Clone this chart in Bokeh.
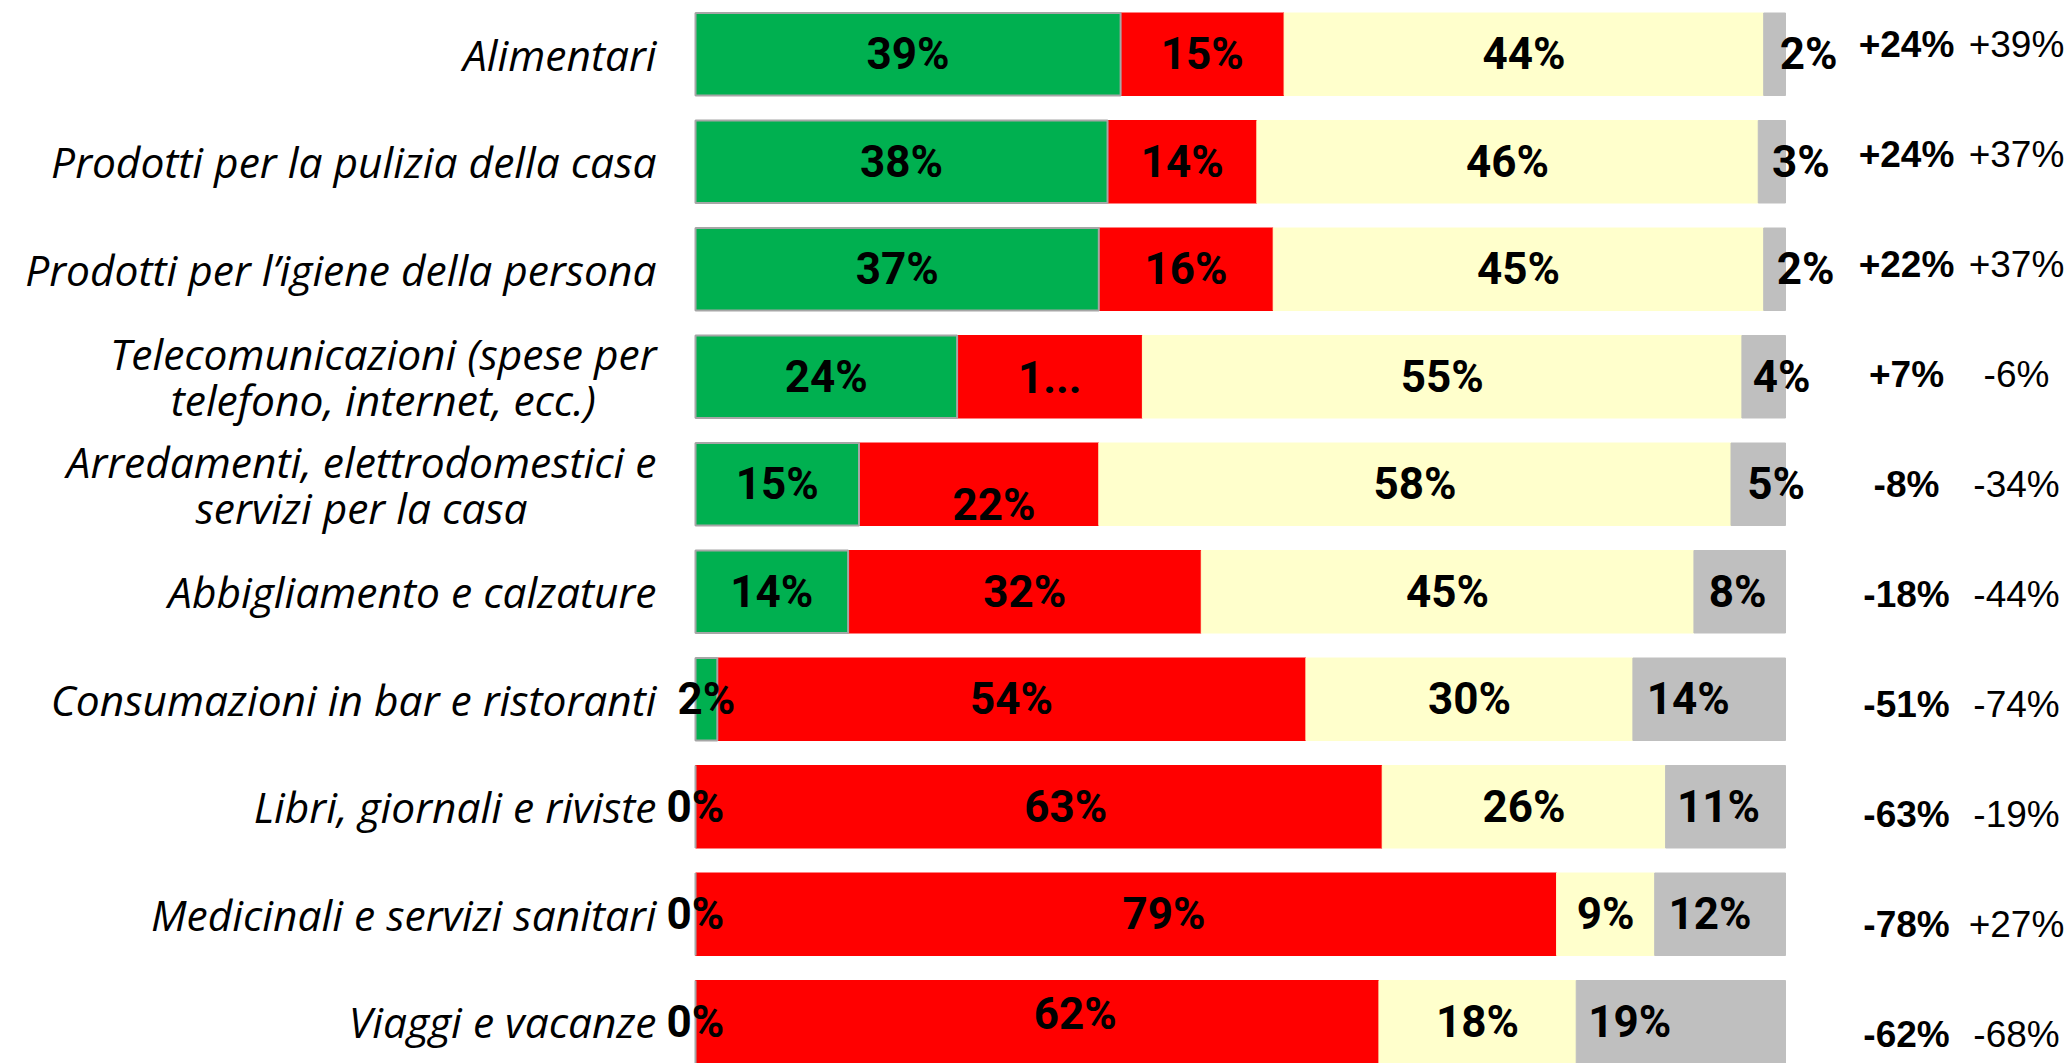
import numpy as np
from bokeh.plotting import figure
from bokeh.models import Range1d, ColumnDataSource
from bokeh.core.properties import value
from bokeh.embed import file_html
from bokeh.resources import INLINE

# ---------------- data ----------------
categories = [
    "Alimentari",
    "Prodotti per la pulizia della casa",
    "Prodotti per l\u2019igiene della persona",
    "Telecomunicazioni (spese per\ntelefono, internet, ecc.)",
    "Arredamenti, elettrodomestici e\nservizi per la casa",
    "Abbigliamento e calzature",
    "Consumazioni in bar e ristoranti",
    "Libri, giornali e riviste",
    "Medicinali e servizi sanitari",
    "Viaggi e vacanze",
]
aumento = [39, 37.8, 37, 24, 15, 14.0, 2, 0, 0, 0]
diminuzione = [15, 13.7, 16, 17, 22, 32.4, 54, 63, 79, 62.7]
invariato = [44, 46.0, 45, 55, 58, 45.2, 30, 26, 9, 18.1]
non_sa = [2, 2.5, 2, 4, 5, 8.4, 14, 11, 12, 19.2]

lab_aumento = ["39%", "38%", "37%", "24%", "15%", "14%", "2%", "0%", "0%", "0%"]
lab_diminuzione = ["15%", "14%", "16%", "1...", "22%", "32%", "54%", "63%", "79%", "62%"]
lab_invariato = ["44%", "46%", "45%", "55%", "58%", "45%", "30%", "26%", "9%", "18%"]
lab_non_sa = ["2%", "3%", "2%", "4%", "5%", "8%", "14%", "11%", "12%", "19%"]
saldo = ["+24%", "+24%", "+22%", "+7%", "-8%", "-18%", "-51%", "-63%", "-78%", "-62%"]
confronto = ["+39%", "+37%", "+37%", "-6%", "-34%", "-44%", "-74%", "-19%", "+27%", "-68%"]

# label nudges (screen px) as placed in the original
dx_dim = [0, 0, 0, 0, 15, 0, 0, 27, 38, 38]
dy_dim = [0, 0, 0, 0, 21, 0, 0, 0, 0, -8]
dx_ns = [34, 29, 31, 18, 18, -2, -21, -7, -10, -51]

# ---------------- geometry ----------------
W, H = 2067, 1063
PX_PER_PCT = 10.9
BAR_LEFT = 695
ROW0 = 53.75
ROW_STEP = 107.5
x0 = -BAR_LEFT / PX_PER_PCT
x1 = x0 + W / PX_PER_PCT
y_top = -ROW0 / ROW_STEP
y_bot = (H - ROW0) / ROW_STEP

n = len(categories)
rows = np.arange(n)
a = np.array(aumento, float)
d = np.array(diminuzione, float)
iv = np.array(invariato, float)
ns = np.array(non_sa, float)
c1 = a
c2 = c1 + d
c3 = c2 + iv
c4 = c3 + ns

src = ColumnDataSource(dict(
    y=rows, cat=categories,
    a0=np.zeros(n), a1=c1, d1=c2, i1=c3, n1=c4,
    ax=c1 / 2, dx=c1 + d / 2, ix=c2 + iv / 2, nx=c3 + ns / 2,
    la=lab_aumento, ld=lab_diminuzione, li=lab_invariato, ln=lab_non_sa,
    ddx=dx_dim, ddy=dy_dim, ndx=dx_ns,
    s=saldo, c=confronto,
    ry=(-10.25 + 2.5 * rows),
))

p = figure(width=W, height=H, x_range=Range1d(x0, x1), y_range=Range1d(y_bot, y_top),
           output_backend="svg", toolbar_location=None, min_border=0)
p.axis.visible = False
p.grid.visible = False
p.outline_line_color = None
p.background_fill_color = "white"
p.border_fill_color = "white"

BH = 82.5 / ROW_STEP
p.hbar(y="y", left="a1", right="d1", height=BH, source=src,
       fill_color="#FF0000", line_color="#FF0000", line_width=1)
p.hbar(y="y", left="d1", right="i1", height=BH, source=src,
       fill_color="#FFFFCC", line_color="#FFFFCC", line_width=1)
p.hbar(y="y", left="i1", right="n1", height=BH, source=src,
       fill_color="#BFBFBF", line_color="#BFBFBF", line_width=1)
p.hbar(y="y", left="a0", right="a1", height=BH, source=src,
       fill_color="#00B050", line_color="#A6A6A6", line_width=2)

# category labels
p.text(x=-39 / PX_PER_PCT, y="y", text="cat", source=src, anchor="center_right",
       text_align="center", text_baseline="middle",
       text_font=value("Open Sans"), text_font_style="italic", text_font_size="42.5px",
       text_color="black", text_line_height=0.8)

lab_kw = dict(text_align="center", text_baseline="middle", text_font=value("Roboto"),
              text_font_style="bold", text_font_size="44px", text_color="black", source=src)
p.text(x="ax", y="y", text="la", **lab_kw)
p.text(x="dx", y="y", text="ld", x_offset="ddx", y_offset="ddy", **lab_kw)
p.text(x="ix", y="y", text="li", **lab_kw)
p.text(x="nx", y="y", text="ln", x_offset="ndx", **lab_kw)

# right-hand columns
p.text(x=(1906 - BAR_LEFT) / PX_PER_PCT, y="y", text="s", y_offset="ry", source=src,
       text_align="center", text_baseline="middle", text_font=value("Liberation Sans"),
       text_font_style="bold", text_font_size="37px", text_color="black")
p.text(x=(2016 - BAR_LEFT) / PX_PER_PCT, y="y", text="c", y_offset="ry", source=src,
       text_align="center", text_baseline="middle", text_font=value("Liberation Sans"),
       text_font_style="normal", text_font_size="37px", text_color="black")

open("out.html", "w").write(file_html(p, INLINE))
